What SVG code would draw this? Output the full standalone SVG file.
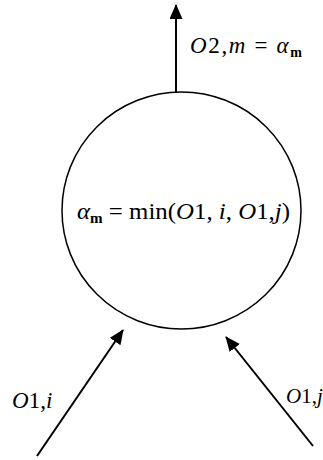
<svg xmlns="http://www.w3.org/2000/svg" width="323" height="460" viewBox="0 0 323 460">
<style>
.t{font-family:"Liberation Serif","Times New Roman",serif;font-size:23px;fill:#000}
.i{font-style:italic}
.sub{font-size:14px;font-weight:bold}
.ln{stroke:#000;stroke-width:2;fill:none}
</style>
<defs>
<marker id="ah" markerWidth="15" markerHeight="13" refX="14" refY="6.5" orient="auto" markerUnits="userSpaceOnUse">
<path d="M0,0 L15,6.5 L0,13 Z" fill="#000"/>
</marker>
</defs>
<g id="node-min">
<ellipse cx="181.5" cy="210.5" rx="119.5" ry="118.5" fill="#fff" stroke="#000" stroke-width="1.5"/>
<text class="t" x="77" y="219" textLength="213" lengthAdjust="spacingAndGlyphs"><tspan class="i">α</tspan><tspan class="sub" dy="4">m</tspan><tspan dy="-4"> = min(</tspan><tspan class="i">O</tspan>1,<tspan class="i"> i</tspan>, <tspan class="i">O</tspan>1,<tspan class="i">j</tspan>)</text>
</g>
<g id="connectors">
<line class="ln" x1="176" y1="92" x2="176" y2="5" marker-end="url(#ah)"/>
<line class="ln" x1="37" y1="456" x2="123" y2="330" marker-end="url(#ah)"/>
<line class="ln" x1="313" y1="446" x2="226" y2="337" marker-end="url(#ah)"/>
</g>
<g id="labels">
<text class="t" x="190" y="53" textLength="112" lengthAdjust="spacing"><tspan class="i">O</tspan>2,<tspan class="i">m</tspan> = <tspan class="i">α</tspan><tspan class="sub" dy="4">m</tspan></text>
<text class="t" x="12" y="408"><tspan class="i">O</tspan>1,<tspan class="i">i</tspan></text>
<text class="t" x="286" y="403" style="font-size:21px"><tspan class="i">O</tspan>1,<tspan class="i">j</tspan></text>
</g>
</svg>
